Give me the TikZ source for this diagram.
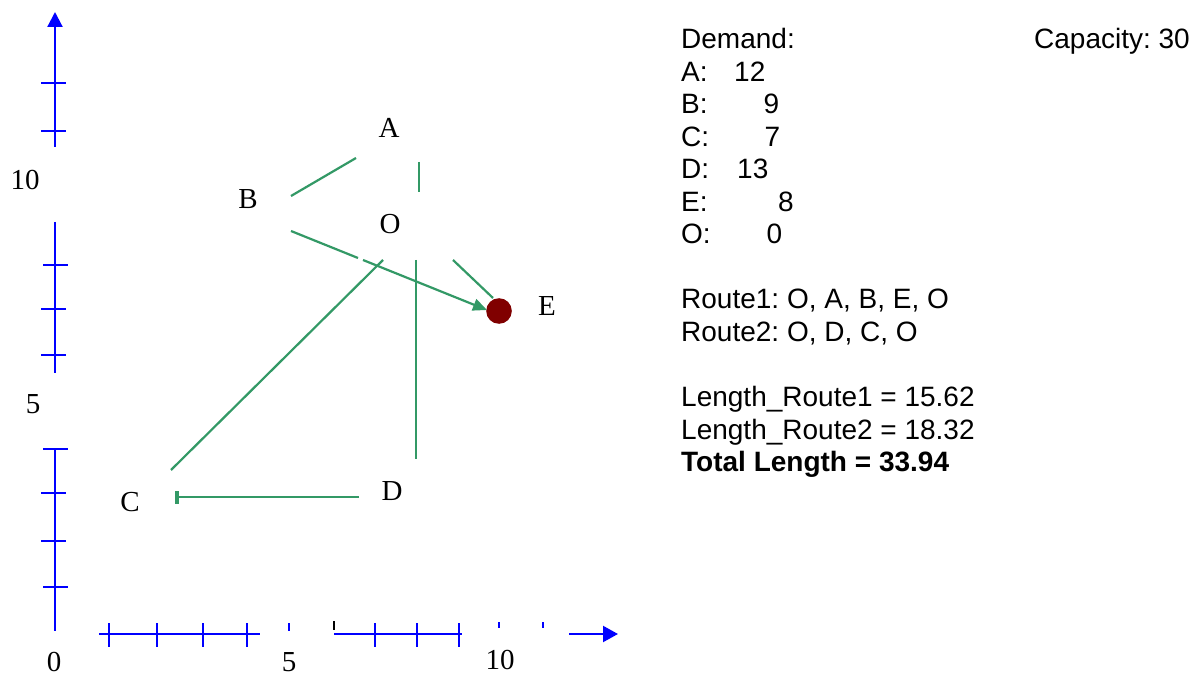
\documentclass[tikz,border=0pt]{standalone}
\usepackage{fontspec}
\setmainfont{Liberation Serif}
\newfontfamily\arialfont{Liberation Sans}
\usetikzlibrary{arrows.meta}
\definecolor{edgegreen}{RGB}{51,153,102}
\definecolor{axisblue}{RGB}{0,0,255}
\definecolor{dotred}{RGB}{128,0,0}
\frenchspacing
\begin{document}
\begin{tikzpicture}[x=1pt,y=-1pt,
  axisline/.style={draw=axisblue, line width=2.2pt},
  tickmark/.style={draw=axisblue, line width=2pt},
  edgeline/.style={draw=edgegreen, line width=2.2pt},
  lbl/.style={font=\fontsize{29}{29}\selectfont, inner sep=0pt},
  info/.style={font=\arialfont\fontsize{28}{28}\selectfont, inner sep=0pt, anchor=base west},
  infobold/.style={info, font=\arialfont\bfseries\fontsize{28}{28}\selectfont}]
\fill[white] (0,0) rectangle (1197,676);
\useasboundingbox (0,0) rectangle (1197,676);

% ---------- vertical axis ----------
\draw[axisline, -{Triangle[length=15pt,width=15pt]}] (55,147) -- (55,12);
\foreach \yy in {83,131} \draw[tickmark] (41,\yy) -- (66,\yy);
\draw[axisline] (55,222) -- (55,373);
\draw[tickmark] (43,265) -- (68,265);
\foreach \yy in {309,355} \draw[tickmark] (41,\yy) -- (66,\yy);
\draw[axisline] (55,449) -- (55,631);
\foreach \yy in {449,587} \draw[tickmark] (43,\yy) -- (68,\yy);
\foreach \yy in {493,541} \draw[tickmark] (41,\yy) -- (66,\yy);
\node[lbl] (ylab10) at (25,180) {10};
\node[lbl] (ylab5) at (33,404) {5};
\node[lbl] (ylab0) at (54,662) {0};

% ---------- horizontal axis ----------
\draw[axisline] (99,634) -- (260,634);
\foreach \xx in {109,157,203,247} \draw[tickmark] (\xx,623) -- (\xx,647);
\draw[tickmark] (289,623) -- (289,631);
\draw[black, line width=1.2pt] (334,621) -- (334,630);
\draw[axisline] (334,634) -- (462,634);
\foreach \xx in {375,417,459} \draw[tickmark] (\xx,623) -- (\xx,647);
\foreach \xx in {499,543} \draw[tickmark] (\xx,622) -- (\xx,628);
\draw[axisline, -{Triangle[length=15pt,width=16pt]}] (569,634) -- (618,634);
\node[lbl] (xlab5) at (289,662) {5};
\node[lbl] (xlab10) at (500,660) {10};

% ---------- graph nodes ----------
\node[lbl] (nA) at (389,128) {A};
\node[lbl] (nB) at (248,199) {B};
\node[lbl] (nO) at (390,224) {O};
\node[lbl] (nE) at (547,306) {E};
\node[lbl] (nC) at (130,502) {C};
\node[lbl] (nD) at (392,491) {D};
\fill[dotred] (499,311) circle (12.8) coordinate (dotE);

% connector end points
\coordinate (bA) at (291,196);  \coordinate (aB) at (356,158);
\coordinate (aO) at (419,162);  \coordinate (oA) at (419,192);
\coordinate (bE) at (291,231);  \coordinate (gap1) at (358,258);
\coordinate (gap2) at (363,260); \coordinate (eB) at (487,310);
\coordinate (oE) at (453,260);  \coordinate (eO) at (493,298);
\coordinate (oD) at (416,260);  \coordinate (dO) at (416,459);
\coordinate (oC) at (383,260);  \coordinate (cO) at (171,470);
\coordinate (dC) at (359,497);  \coordinate (cD) at (175,497);

\draw[edgeline] (bA) -- (aB);
\draw[edgeline] (aO) -- (oA);
\draw[edgeline] (bE) -- (gap1);
\draw[edgeline, -{Triangle[length=14pt,width=12pt]}] (gap2) -- (eB);
\draw[edgeline] (oE) -- (eO);
\draw[edgeline] (oD) -- (dO);
\draw[edgeline] (oC) -- (cO);
\draw[edgeline, -{Bar[width=13pt,line width=4pt]}] (dC) -- (cD);

% ---------- info panel ----------
\node[info] (tDemand) at (681,48.6) {Demand:};
\node[info, anchor=base east] (tCap) at (1190,48.6) {Capacity: 30};
\node[info] (tA) at (681,81.2) {A:};   \node[info] (vA) at (734,81.2) {12};
\node[info] (tB) at (681,113.7) {B:};  \node[info] (vB) at (763.5,113.7) {9};
\node[info] (tC) at (681,146.3) {C:};  \node[info] (vC) at (764.5,146.3) {7};
\node[info] (tD) at (681,178.8) {D:};  \node[info] (vD) at (737,178.8) {13};
\node[info] (tE) at (681,211.4) {E:};  \node[info] (vE) at (778,211.4) {8};
\node[info] (tO) at (681,243.9) {O:};  \node[info] (vO) at (766.5,243.9) {0};
\node[info] (tR1) at (681,309) {Route1: O, A, B, E, O};
\node[info] (tR2) at (681,341.6) {Route2: O, D, C, O};
\node[info] (tL1) at (681,406.7) {Length\_Route1 = 15.62};
\node[info] (tL2) at (681,439.2) {Length\_Route2 = 18.32};
\node[infobold] (tTot) at (681,471.8) {Total Length = 33.94};
\end{tikzpicture}
\end{document}
